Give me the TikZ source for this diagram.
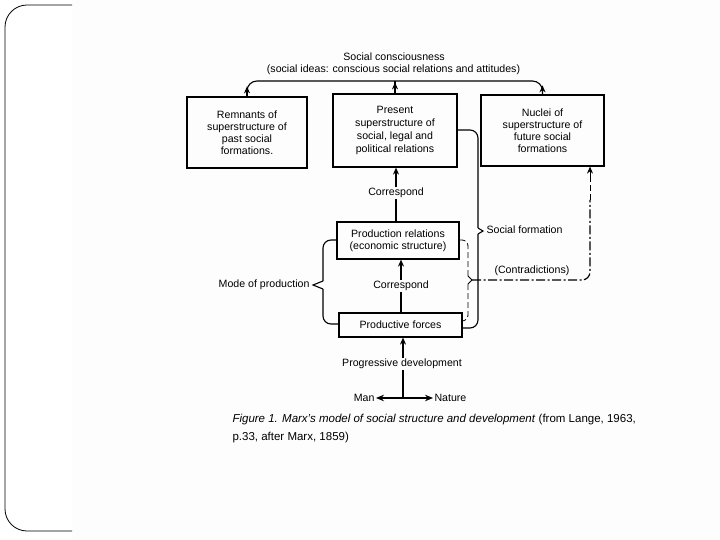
\documentclass[tikz,border=0pt]{standalone}
\usepackage{fontspec}
\setmainfont{Liberation Sans}
\usetikzlibrary{arrows.meta}
\begin{document}
\begin{tikzpicture}[x=1pt,y=-1pt,line width=1.1pt,
  box/.style={draw,line width=1.2pt,inner sep=0pt,align=center,font=\fontsize{10.6}{12}\selectfont},
  lbl/.style={inner sep=1pt,font=\fontsize{10.6}{12}\selectfont},
  arr/.style={-{Stealth[length=7pt,width=6pt]}},
  sarr/.style={{Stealth[length=8pt,width=6.5pt]}-{Stealth[length=8pt,width=6.5pt]},line width=1.8pt},
  dashedline/.style={dash pattern=on 6pt off 3pt},
  dashdotline/.style={dash pattern=on 9pt off 2.5pt on 2pt off 2.5pt},
]
\useasboundingbox (0,0) rectangle (720,540);
\fill[gray!1.5] (72,0) rectangle (720,540);
\draw[line width=0.8pt,rounded corners=22pt] (72,5) -- (5,5) -- (5,531) -- (72,531);

% boxes
\node[box,minimum width=120pt,minimum height=71pt] (rem) at (247,132.5) {Remnants of\\superstructure of\\past social\\formations.};
\node[box,minimum width=124pt,minimum height=73pt,font=\fontsize{10.6}{13}\selectfont] (pres) at (395,130.5) {Present\\superstructure of\\social, legal and\\political relations};
\node[box,minimum width=123pt,minimum height=71pt] (nuc) at (542.5,130.5) {Nuclei of\\superstructure of\\future social\\formations};
\node[box,minimum width=122pt,minimum height=37pt] (prel) at (398,240.5) {Production relations\\(economic structure)};
\node[box,minimum width=123pt,minimum height=24pt] (pf) at (400.5,325) {Productive forces};

% social consciousness
\node[lbl] (sc) at (394,57) {Social consciousness};
\node[lbl] (si) at (393.5,69.5) {(social ideas: conscious social relations and attitudes)};
\coordinate (topy) at (0,81);
\draw[rounded corners=10pt] (rem.north) -- (rem.north |- topy) -- (nuc.north |- topy) -- (nuc.north);
\draw (pres.north) -- (pres.north |- topy);
\draw[arr] (rem.north) -- ++(0,-10);
\draw[arr] (nuc.north) -- ++(0,-9);
\draw[arr] (pres.north) -- ++(0,-11);

% correspond labels
\node[lbl] (c1) at (396,193) {Correspond};
\draw (prel.north -| c1) -- (c1.south);
\draw[arr] (c1.north) -- (c1.north |- pres.south);
\node[lbl] (c2) at (401,286) {Correspond};
\draw (pf.north -| c2) -- (c2.south);
\draw[arr] (c2.north) -- (c2.north |- prel.south);

% social formation brace
\coordinate (sf1) at (478,228);
\coordinate (sftip) at (483,231);
\coordinate (sf2) at (478,234);
\draw[rounded corners=8pt] (pres.east |- 0,130) -- (478,130) -- (sf1);
\draw (sf1) -- (sftip) -- (sf2);
\draw[rounded corners=8pt] (sf2) -- (478,328) -- (pf.east |- 0,328);
\node[lbl,anchor=west] (sf) at (485,230) {Social formation};

% mode of production brace
\coordinate (mp1) at (323,281);
\coordinate (mptip) at (313,285);
\coordinate (mp2) at (323,289);
\draw[rounded corners=8pt] (prel.west |- 0,240) -- (323,240) -- (mp1);
\draw (mp1) -- (mptip) -- (mp2);
\draw[rounded corners=8pt] (mp2) -- (323,324) -- (pf.west |- 0,324);
\node[lbl,anchor=east] (mp) at (311,285) {Mode of production};

% contradictions dashed brace
\coordinate (ct1) at (468,276);
\coordinate (cttip) at (472,280);
\coordinate (ct2) at (468,284);
\draw[dashedline,line width=0.8pt,rounded corners=6pt] (prel.east |- 0,240) -- (468,240) -- (ct1);
\draw[line width=0.8pt] (ct1) -- (cttip) -- (ct2);
\draw[dashedline,line width=0.8pt,rounded corners=6pt] (ct2) -- (468,321) -- (pf.east |- 0,321);
\draw[dashdotline,line width=1.2pt,rounded corners=8pt] (cttip) -- (590,280) -- (590,200);
\draw[dashedline,line width=0.9pt] (590,200) -- (590,176);
\draw[arr,line width=0.9pt] (590,178) -- (nuc.south -| 590,0);
\node[lbl,anchor=west] (ctr) at (493,271) {(Contradictions)};

% progressive development
\node[lbl] (pd) at (402,364) {Progressive development};
\draw[arr] (pd.north -| 403,0) -- (pf.south -| 403,0);
\node[lbl,anchor=east] (man) at (376,398) {Man};
\node[lbl,anchor=west] (nat) at (433,398) {Nature};
\draw (pd.south -| 403,0) -- (403,398);
\draw[sarr] (man.east) -- (nat.west);

% caption
\node[anchor=north west,align=left,inner sep=0pt,font=\fontsize{11.5}{18}\selectfont] (cap) at (232,414)
 {\textit{Figure 1. Marx’s model of social structure and development} (from Lange, 1963,\\p.33, after Marx, 1859)};
\end{tikzpicture}
\end{document}
